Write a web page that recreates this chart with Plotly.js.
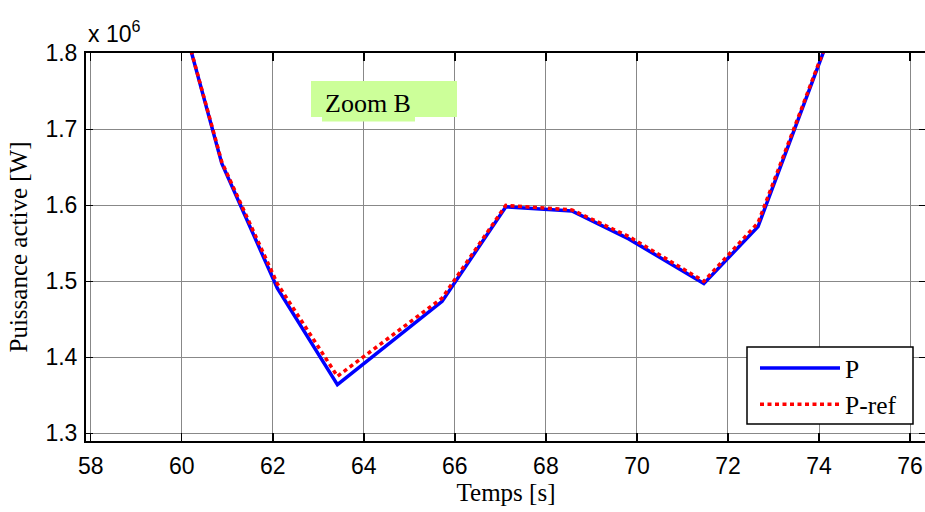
<!DOCTYPE html>
<html>
<head>
<meta charset="utf-8">
<script src="https://cdn.plot.ly/plotly-3.0.1.min.js"></script>
<style>
html,body{margin:0;padding:0;overflow:hidden;background:#fff;}
#chart{width:935px;height:512px;}
</style>
</head>
<body>
<div id="chart"></div>
<script>
// Time [s]
const temps = [59.9, 60.88, 62.1, 63.42, 65.72, 67.12, 68.57, 69.82, 71.47, 72.66, 74.3];
// Active power P (x 10^6 W)
const P = [1.870, 1.655, 1.491, 1.364, 1.4736, 1.598, 1.5925, 1.5558, 1.497, 1.572, 1.834];
// Reference active power P-ref (x 10^6 W)
const Pref = [1.870, 1.657, 1.497, 1.375, 1.478, 1.600, 1.594, 1.559, 1.500, 1.577, 1.835];
const xTicks = [58, 60, 62, 64, 66, 68, 70, 72, 74, 76];
const yTicks = [1.3, 1.4, 1.5, 1.6, 1.7, 1.8];

const axisFont = {family: 'Liberation Sans, Arial, sans-serif', size: 23, color: '#000'};
const serif = 'Liberation Serif, Times New Roman, serif';

const traces = [
  {x: temps, y: P, name: 'P', mode: 'lines', line: {color: '#0000ff', width: 3.5}},
  {x: temps, y: Pref, name: 'P-ref', mode: 'lines', line: {color: '#ff0000', width: 3.5, dash: '4px,3.5px'}}
];

const px = v => (v - 86) / 840;
const py = v => (441 - v) / 388;

const layout = {
  width: 935, height: 512,
  margin: {l: 86, r: 9, t: 53, b: 71},
  paper_bgcolor: '#fff', plot_bgcolor: '#fff',
  showlegend: true,
  xaxis: {
    range: [57.897, 76.35], tickvals: xTicks, ticktext: xTicks.map(String),
    showgrid: true, gridcolor: '#888', gridwidth: 1, zeroline: false,
    showline: true, linecolor: '#000', linewidth: 2, mirror: 'ticks',
    ticks: 'inside', ticklen: 8, tickcolor: '#000', tickwidth: 1.5,
    tickfont: axisFont, ticklabelstandoff: 3,
    title: {text: 'Temps [s]', font: {family: serif, size: 25, color: '#000'}, standoff: 6}
  },
  yaxis: {
    range: [1.2899, 1.8004], tickvals: yTicks, ticktext: yTicks.map(v => v.toFixed(1)),
    showgrid: true, gridcolor: '#888', gridwidth: 1, zeroline: false,
    showline: true, linecolor: '#000', linewidth: 2, mirror: 'ticks',
    ticks: 'inside', ticklen: 7, tickcolor: '#000', tickwidth: 1.5,
    tickfont: axisFont, ticklabelstandoff: 2,
    title: {text: 'Puissance active [W]', font: {family: serif, size: 25, color: '#000'}, standoff: 11}
  },
  legend: {
    x: px(755), xanchor: 'left', y: py(345), yanchor: 'top',
    bgcolor: 'rgba(0,0,0,0)', borderwidth: 0,
    font: {family: serif, size: 25.5, color: '#000'},
    itemwidth: 80, tracegroupgap: 0
  },
  shapes: [
    {type: 'rect', xref: 'paper', yref: 'paper', x0: px(311), x1: px(457), y0: py(117), y1: py(81), fillcolor: '#ccff99', line: {width: 0}, layer: 'above'},
    {type: 'rect', xref: 'paper', yref: 'paper', x0: px(322), x1: px(415), y0: py(121.5), y1: py(117), fillcolor: '#ccff99', line: {width: 0}, layer: 'above'},
    {type: 'rect', xref: 'paper', yref: 'paper', x0: px(747), x1: px(913), y0: py(424), y1: py(347), fillcolor: '#fff', line: {color: '#000', width: 1.5}, layer: 'above'}
  ],
  annotations: [
    {xref: 'paper', yref: 'paper', x: px(323), y: py(103), xanchor: 'left', yanchor: 'middle',
     text: 'Zoom B', showarrow: false, font: {family: serif, size: 26, color: '#000'}},
    {xref: 'paper', yref: 'paper', x: 0, y: 1, xanchor: 'left', yanchor: 'bottom', yshift: 4,
     text: 'x 10<sup>6</sup>', showarrow: false, font: {family: 'Liberation Sans, Arial, sans-serif', size: 23, color: '#000'}}
  ]
};

Plotly.newPlot('chart', traces, layout, {displayModeBar: false, staticPlot: true});
</script>
</body>
</html>
